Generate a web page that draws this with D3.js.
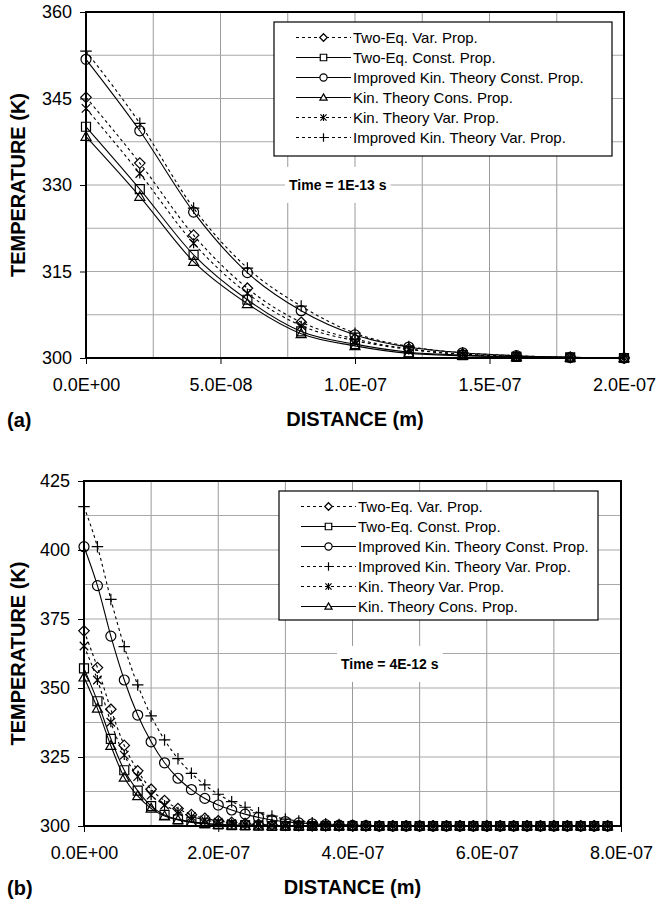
<!DOCTYPE html>
<html>
<head>
<meta charset="utf-8">
<script src="https://cdn.jsdelivr.net/npm/d3@7"></script>
<style>
    body { margin: 0; background: #fff; }
    svg text { font-family: "Liberation Sans", Arial, sans-serif; fill: #000; }
</style>
</head>
<body>
<svg id="chart" width="656" height="902"></svg>
<script>
// ---- data, panel (a): Time = 1E-13 s ----
const distanceA = [0, 2e-8, 4e-8, 6e-8, 8e-8, 1e-7, 1.2e-7, 1.4e-7, 1.6e-7, 1.8e-7, 2e-7];
const twoEqVarA    = [345.2, 333.8, 321.3, 312.1, 306.2, 303.3, 301.6, 300.7, 300.3, 300.1, 300.0];
const twoEqConstA  = [340.1, 329.3, 317.9, 310.1, 304.6, 302.4, 301.0, 300.5, 300.2, 300.1, 300.0];
const impKinConstA = [351.8, 339.4, 325.3, 314.8, 308.2, 304.0, 301.9, 300.9, 300.4, 300.1, 300.0];
const kinConstA    = [338.4, 328.0, 316.7, 309.4, 304.2, 302.1, 300.8, 300.4, 300.2, 300.1, 300.0];
const kinVarA      = [343.3, 332.0, 319.9, 311.2, 305.6, 303.0, 301.5, 300.6, 300.3, 300.1, 300.0];
const impKinVarA   = [353.2, 340.7, 326.0, 315.6, 309.0, 304.3, 302.0, 300.9, 300.4, 300.1, 300.0];
const legendOrderA = ['twoEqVar', 'twoEqConst', 'impKinConst', 'kinConst', 'kinVar', 'impKinVar'];
const yTicksA = [300, 315, 330, 345, 360];
const xTicksA = [0, 5e-8, 1e-7, 1.5e-7, 2e-7];
const xTickLabelsA = ['0.0E+00', '5.0E-08', '1.0E-07', '1.5E-07', '2.0E-07'];

// ---- data, panel (b): Time = 4E-12 s ----
const distanceB = [0, 2e-8, 4e-8, 6e-8, 8e-8, 1e-7, 1.2e-7, 1.4e-7, 1.6e-7, 1.8e-7,
    2e-7, 2.2e-7, 2.4e-7, 2.6e-7, 2.8e-7, 3e-7, 3.2e-7, 3.4e-7, 3.6e-7, 3.8e-7,
    4e-7, 4.2e-7, 4.4e-7, 4.6e-7, 4.8e-7, 5e-7, 5.2e-7, 5.4e-7, 5.6e-7, 5.8e-7,
    6e-7, 6.2e-7, 6.4e-7, 6.6e-7, 6.8e-7, 7e-7, 7.2e-7, 7.4e-7, 7.6e-7, 7.8e-7];
const twoEqVarB = [370.7, 357.4, 342.3, 329.2, 320.0, 313.3, 309.2, 306.3, 304.1, 302.8,
    301.9, 301.3, 300.9, 300.6, 300.4, 300.2, 300.1, 300, 300, 300,
    300, 300, 300, 300, 300, 300, 300, 300, 300, 300,
    300, 300, 300, 300, 300, 300, 300, 300, 300, 300];
const twoEqConstB = [357.1, 345.2, 331.6, 320.2, 312.8, 307.2, 304.0, 302.4, 301.6, 301.0,
    300.6, 300.3, 300.2, 300.1, 300, 300, 300, 300, 300, 300,
    300, 300, 300, 300, 300, 300, 300, 300, 300, 300,
    300, 300, 300, 300, 300, 300, 300, 300, 300, 300];
const impKinConstB = [401.2, 387.1, 368.8, 352.9, 340.2, 330.5, 322.9, 317.3, 313.2, 310.0,
    307.6, 305.8, 304.3, 303.1, 302.2, 301.6, 301.1, 300.8, 300.5, 300.3,
    300.2, 300.1, 300, 300, 300, 300, 300, 300, 300, 300,
    300, 300, 300, 300, 300, 300, 300, 300, 300, 300];
const impKinVarB = [415.7, 401.2, 382.1, 365.0, 351.1, 339.9, 331.2, 324.4, 319.1, 314.9,
    311.5, 308.8, 306.8, 304.8, 303.6, 302.5, 301.8, 301.2, 300.8, 300.5,
    300.3, 300.2, 300.1, 300, 300, 300, 300, 300, 300, 300,
    300, 300, 300, 300, 300, 300, 300, 300, 300, 300];
const kinVarB = [365.2, 352.9, 337.6, 325.7, 317.9, 311.2, 307.6, 305.2, 303.4, 302.2,
    301.4, 300.9, 300.6, 300.3, 300.2, 300.1, 300, 300, 300, 300,
    300, 300, 300, 300, 300, 300, 300, 300, 300, 300,
    300, 300, 300, 300, 300, 300, 300, 300, 300, 300];
const kinConstB = [353.9, 342.6, 329.1, 317.6, 310.9, 306.4, 303.6, 302.2, 301.3, 300.8,
    300.5, 300.3, 300.1, 300, 300, 300, 300, 300, 300, 300,
    300, 300, 300, 300, 300, 300, 300, 300, 300, 300,
    300, 300, 300, 300, 300, 300, 300, 300, 300, 300];
const legendOrderB = ['twoEqVar', 'twoEqConst', 'impKinConst', 'impKinVar', 'kinVar', 'kinConst'];
const yTicksB = [300, 325, 350, 375, 400, 425];
const xTicksB = [0, 2e-7, 4e-7, 6e-7, 8e-7];
const xTickLabelsB = ['0.0E+00', '2.0E-07', '4.0E-07', '6.0E-07', '8.0E-07'];

// line / marker look per series
const seriesStyle = {
    twoEqVar:    {label: 'Two-Eq. Var. Prop.', dash: '3,3', marker: 'diamond'},
    twoEqConst:  {label: 'Two-Eq. Const. Prop.', dash: null, marker: 'square'},
    impKinConst: {label: 'Improved Kin. Theory Const. Prop.', dash: null, marker: 'circle'},
    kinConst:    {label: 'Kin. Theory Cons. Prop.', dash: null, marker: 'triangle'},
    kinVar:      {label: 'Kin. Theory Var. Prop.', dash: '3,3', marker: 'star'},
    impKinVar:   {label: 'Improved Kin. Theory Var. Prop.', dash: '3,3', marker: 'plus'}
};

// custom marker shapes, size = half width
const markerTypes = {
    diamond: {draw(c, s) { const r = s * 1.05; c.moveTo(0, -r); c.lineTo(r, 0); c.lineTo(0, r); c.lineTo(-r, 0); c.closePath(); }},
    square: {draw(c, s) { const r = s * 0.9; c.rect(-r, -r, 2 * r, 2 * r); }},
    circle: {draw(c, s) { c.moveTo(s, 0); c.arc(0, 0, s, 0, 2 * Math.PI); }},
    triangle: {draw(c, s) { const r = s; c.moveTo(0, -r); c.lineTo(r, r * 0.75); c.lineTo(-r, r * 0.75); c.closePath(); }},
    star: {draw(c, s) { const r = s * 0.85; c.moveTo(-r, -r); c.lineTo(r, r); c.moveTo(-r, r); c.lineTo(r, -r); c.moveTo(0, -s); c.lineTo(0, s); }},
    plus: {draw(c, s) { const r = s * 1.15; c.moveTo(-r, 0); c.lineTo(r, 0); c.moveTo(0, -r); c.lineTo(0, r); }}
};

const panels = [
    {
        x: distanceA,
        series: {twoEqVar: twoEqVarA, twoEqConst: twoEqConstA, impKinConst: impKinConstA,
                 kinConst: kinConstA, kinVar: kinVarA, impKinVar: impKinVarA},
        legendOrder: legendOrderA,
        yTicks: yTicksA, xTicks: xTicksA, xTickLabels: xTickLabelsA,
        xDomain: [0, 2e-7], yDomain: [300, 360], xGrid: 2.5e-8, yGrid: 7.5,
        box: {left: 86, right: 624, top: 12, bottom: 358},
        legend: {x: 274, y: 22, w: 338, h: 134},
        timeText: 'Time = 1E-13 s', timeX: 289, timeY: 185,
        tag: '(a)'
    },
    {
        x: distanceB,
        series: {twoEqVar: twoEqVarB, twoEqConst: twoEqConstB, impKinConst: impKinConstB,
                 impKinVar: impKinVarB, kinVar: kinVarB, kinConst: kinConstB},
        legendOrder: legendOrderB,
        yTicks: yTicksB, xTicks: xTicksB, xTickLabels: xTickLabelsB,
        xDomain: [0, 8e-7], yDomain: [300, 425], xGrid: 1e-7, yGrid: 12.5,
        box: {left: 84, right: 621, top: 481, bottom: 826},
        legend: {x: 279, y: 491, w: 319, h: 129},
        timeText: 'Time = 4E-12 s', timeX: 341, timeY: 664,
        tag: '(b)'
    }
];

const svg = d3.select('#chart');
panels.forEach(drawPanel);

function drawPanel(p) {
    const w = p.box.right - p.box.left;
    const h = p.box.bottom - p.box.top;

    const xScale = d3.scaleLinear().domain(p.xDomain).range([0, w]);
    const yScale = d3.scaleLinear().domain(p.yDomain).range([h, 0]);

    const g = svg.append('g')
        .attr('transform', `translate(${p.box.left}, ${p.box.top})`);

    // grid
    const xg = d3.range(p.xDomain[0], p.xDomain[1] + p.xGrid / 2, p.xGrid);
    const yg = d3.range(p.yDomain[0], p.yDomain[1] + p.yGrid / 2, p.yGrid);
    g.append('g').selectAll('line').data(xg).enter().append('line')
        .attr('x1', d => xScale(d)).attr('x2', d => xScale(d))
        .attr('y1', 0).attr('y2', h)
        .attr('stroke', '#9a9a9a').attr('stroke-width', 1);
    g.append('g').selectAll('line').data(yg).enter().append('line')
        .attr('x1', 0).attr('x2', w)
        .attr('y1', d => yScale(d)).attr('y2', d => yScale(d))
        .attr('stroke', '#a8a8a8').attr('stroke-width', 1.2);

    // time label with white backing
    const timeG = g.append('g');
    const timeT = timeG.append('text')
        .attr('x', p.timeX - p.box.left)
        .attr('y', p.timeY - p.box.top)
        .attr('dy', '0.35em')
        .style('font-size', '14px')
        .style('font-weight', 'bold')
        .text(p.timeText);
    const bb = timeT.node().getBBox();
    timeG.insert('rect', 'text')
        .attr('x', bb.x - 4).attr('y', bb.y - 10)
        .attr('width', bb.width + 8).attr('height', bb.height + 20)
        .attr('fill', '#fff');

    // series lines
    const line = d3.line()
        .x((d, i) => xScale(p.x[i]))
        .y(d => yScale(d))
        .curve(d3.curveMonotoneX);

    const keys = Object.keys(p.series);
    keys.forEach(k => {
        g.append('path')
            .datum(p.series[k])
            .attr('d', line)
            .attr('fill', 'none')
            .attr('stroke', '#000')
            .attr('stroke-width', 1.1)
            .attr('stroke-dasharray', seriesStyle[k].dash);
    });

    // markers
    keys.forEach(k => {
        const sym = d3.symbol(markerTypes[seriesStyle[k].marker], 5);
        g.append('g').selectAll('path')
            .data(p.series[k])
            .enter()
            .append('path')
            .attr('transform', (d, i) => `translate(${xScale(p.x[i])}, ${yScale(d)})`)
            .attr('d', sym)
            .attr('fill', 'none')
            .attr('stroke', '#000')
            .attr('stroke-width', 1.2);
    });

    // frame
    g.append('rect')
        .attr('width', w).attr('height', h)
        .attr('fill', 'none').attr('stroke', '#000').attr('stroke-width', 2);

    // axes
    const yAxis = d3.axisLeft(yScale)
        .tickValues(p.yTicks)
        .tickSize(6)
        .tickPadding(8)
        .tickFormat(d3.format('d'));
    g.append('g')
        .call(yAxis)
        .call(a => a.select('.domain').remove())
        .call(a => a.selectAll('text').style('font-size', '18px').attr('fill', '#000'));

    const xAxis = d3.axisBottom(xScale)
        .tickValues(p.xTicks)
        .tickSize(6)
        .tickPadding(14)
        .tickFormat((d, i) => p.xTickLabels[i]);
    g.append('g')
        .attr('transform', `translate(0, ${h})`)
        .call(xAxis)
        .call(a => a.select('.domain').remove())
        .call(a => a.selectAll('text').style('font-size', '18px').attr('fill', '#000'));

    // axis titles
    g.append('text')
        .attr('x', w / 2).attr('y', h + 61)
        .attr('dy', '0.35em')
        .attr('text-anchor', 'middle')
        .style('font-size', '20px').style('font-weight', 'bold')
        .text('DISTANCE (m)');

    g.append('text')
        .attr('transform', `translate(${18 - p.box.left + 7}, ${h / 2}) rotate(-90)`)
        .attr('text-anchor', 'middle')
        .style('font-size', '20px').style('font-weight', 'bold')
        .text('TEMPERATURE (K)');

    svg.append('text')
        .attr('x', 7).attr('y', p.box.bottom + 62)
        .attr('dy', '0.35em')
        .style('font-size', '20px').style('font-weight', 'bold')
        .text(p.tag);

    // legend
    const lg = svg.append('g').attr('transform', `translate(${p.legend.x}, ${p.legend.y})`);
    lg.append('rect')
        .attr('width', p.legend.w).attr('height', p.legend.h)
        .attr('fill', '#fff').attr('stroke', '#000').attr('stroke-width', 1.2);

    p.legendOrder.forEach((k, i) => {
        const ry = 15.5 + i * 20;
        const row = lg.append('g').attr('transform', `translate(0, ${ry})`);
        row.append('line')
            .attr('x1', 22).attr('x2', 77)
            .attr('stroke', '#000').attr('stroke-width', 1.1)
            .attr('stroke-dasharray', seriesStyle[k].dash);
        row.append('path')
            .attr('transform', 'translate(49.5, 0)')
            .attr('d', d3.symbol(markerTypes[seriesStyle[k].marker], 3.6)())
            .attr('fill', '#fff')
            .attr('stroke', '#000').attr('stroke-width', 1.2);
        row.append('text')
            .attr('x', 79).attr('dy', '0.35em')
            .style('font-size', '15px')
            .text(seriesStyle[k].label);
    });
}
</script>
</body>
</html>
